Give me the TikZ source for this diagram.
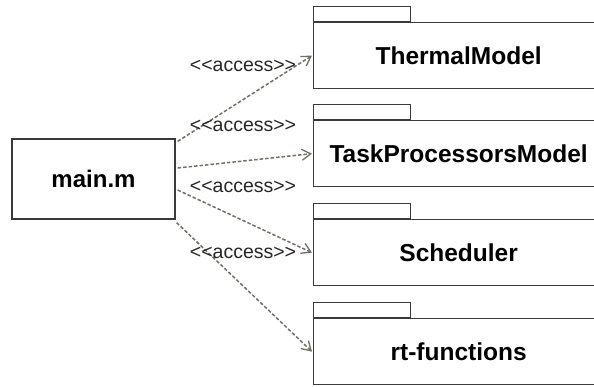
\documentclass[tikz,border=0pt]{standalone}
\usepackage{fontspec}
\setmainfont{Liberation Sans}
\usetikzlibrary{arrows.meta,calc}
\definecolor{boxline}{HTML}{3A3A3A}
\definecolor{dep}{HTML}{756E64}
\tikzset{
  component/.style={draw=boxline, line width=1.3pt, fill=white, minimum width=163pt,
    minimum height=80pt, inner sep=0pt, font=\bfseries\fontsize{24}{28}\selectfont},
  pkgbody/.style={draw=boxline, line width=1.3pt, fill=white, minimum width=290pt,
    minimum height=66pt, inner sep=0pt, anchor=north west,
    font=\bfseries\fontsize{24.5}{28}\selectfont},
  pkgtab/.style={draw=boxline, line width=1.3pt, fill=white, minimum width=97pt,
    minimum height=15pt, inner sep=0pt, anchor=south west},
  access/.style={draw=dep, line width=1.5pt, dash pattern=on 3.5pt off 2pt,
    -{Straight Barb[length=9pt,width=11pt,line width=1.3pt]}},
  stereo/.style={font=\fontsize{19.5}{22}\selectfont, text=black!85, inner sep=1pt}
}
\newcommand{\accesslabel}{{<}{<}access{>}{>}}
\begin{document}
\begin{tikzpicture}[x=1pt,y=-1pt]
\useasboundingbox (0,0) rectangle (594,387);

% the script that uses the packages
\node[component] (main) at (93.5,179) {main.m};

% packages: body plus tab
\node[pkgbody] (thermal) at (313,22) {ThermalModel};
\node[pkgtab] (thermaltab) at (thermal.north west) {};
\node[pkgbody] (taskproc) at (313,120) {TaskProcessorsModel};
\node[pkgtab] (taskproctab) at (taskproc.north west) {};
\node[pkgbody] (sched) at (313,219) {Scheduler};
\node[pkgtab] (schedtab) at (sched.north west) {};
\node[pkgbody] (rtfun) at (313,318) {rt-functions};
\node[pkgtab] (rtfuntab) at (rtfun.north west) {};

% access dependencies
\draw[access] ([shift={(2,3)}]main.north east) -- ([xshift=-1pt]thermal.west);
\draw[access] ([shift={(2,-11)}]main.east) -- ([xshift=-1pt]taskproc.west);
\draw[access] ([shift={(2,11)}]main.east) -- ([xshift=-1pt]sched.west);
\draw[access] ([shift={(1,3)}]main.south east) -- ([xshift=-1pt]rtfun.west);

% stereotype labels
\node[stereo] (l1) at (243,66) {\accesslabel};
\node[stereo] (l2) at (243,126) {\accesslabel};
\node[stereo] (l3) at (243,187) {\accesslabel};
\node[stereo] (l4) at (243,253) {\accesslabel};
\end{tikzpicture}
\end{document}
